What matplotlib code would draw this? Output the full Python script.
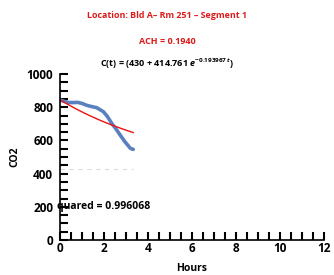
import numpy as np
import matplotlib
matplotlib.use("Agg")
import matplotlib.pyplot as plt
from matplotlib.ticker import MultipleLocator

plt.rcParams['font.family'] = ['Open Sans', 'DejaVu Sans']
plt.rcParams['mathtext.fontset'] = 'custom'
plt.rcParams['mathtext.rm'] = 'Open Sans:bold'
plt.rcParams['mathtext.it'] = 'Open Sans:bold:italic'
plt.rcParams['mathtext.bf'] = 'Open Sans:bold'

# measured data (hours, CO2 ppm)
hours = [0.0, 0.2, 0.4, 0.6, 0.8, 1.0, 1.2, 1.4, 1.67, 1.97, 2.15, 2.35, 2.55, 2.73, 2.95, 3.1, 3.2, 3.33]
co2 = [843, 835, 828, 828, 829, 823, 812, 805, 797, 773, 745, 703, 668, 633, 592, 568, 552, 546]

# fit parameters
c_base = 430
c_amp = 414.761
k = 0.193967
t_end = 3.33
r_squared = "0.996068"

title1 = "Location: Bld A\u2013 Rm 251 \u2013 Segment 1"
title2 = "ACH = 0.1940"

fig = plt.figure(figsize=(3.34, 2.75), dpi=100)
ax = fig.add_axes([60/334, 1-240/275, 264/334, 166/275])

t_fit = np.linspace(0, t_end, 100)
ax.plot(hours, co2, color='#5b80c0', lw=2.6, solid_capstyle='round')
ax.plot(t_fit, c_base + c_amp*np.exp(-k*t_fit), color='#ee1111', lw=1.0)
ax.plot([0, t_end], [c_base, c_base], color='#dddddd', lw=0.8, ls=(0, (4, 4)))

ax.set_xlim(0, 12)
ax.set_ylim(0, 1000)
ax.xaxis.set_major_locator(MultipleLocator(2))
ax.xaxis.set_minor_locator(MultipleLocator(0.5))
ax.yaxis.set_major_locator(MultipleLocator(200))
ax.yaxis.set_minor_locator(MultipleLocator(50))
ax.tick_params(which='both', direction='in', width=1.5, color='black', length=6)
ax.tick_params(which='major', labelsize=8.5)
ax.tick_params(axis='x', which='major', pad=1.5)
ax.tick_params(axis='y', which='major', pad=5)
for lab in ax.get_xticklabels() + ax.get_yticklabels():
    lab.set_fontweight('bold')
for s in ['top', 'right']:
    ax.spines[s].set_visible(False)
for s in ['left', 'bottom']:
    ax.spines[s].set_linewidth(1.2)

ax.set_xlabel('Hours', fontsize=7.5, fontweight='bold', va='center')
ax.set_ylabel('CO2', fontsize=7.5, fontweight='bold', va='center')
ax.xaxis.set_label_coords(0.5, -0.17)
ax.yaxis.set_label_coords(-0.17, 0.5)

ax.text(-0.15, 203, 'quared = ' + r_squared, fontsize=7.5, fontweight='bold', va='center', ha='left')

fig.text(0.5, 1-16/275, title1, color='#dd1a1a', fontsize=6.4, fontweight='bold', ha='center', va='center')
fig.text(0.5, 1-42/275, title2, color='#dd1a1a', fontsize=6.5, fontweight='bold', ha='center', va='center')
eq = r'C(t) = (%g + %g $e^{-%g\,t}$)' % (c_base, c_amp, k)
fig.text(0.5, 1-64/275, eq, color='black', fontsize=6.5, fontweight='bold', ha='center', va='center')

fig.savefig('out.png', dpi=100)
